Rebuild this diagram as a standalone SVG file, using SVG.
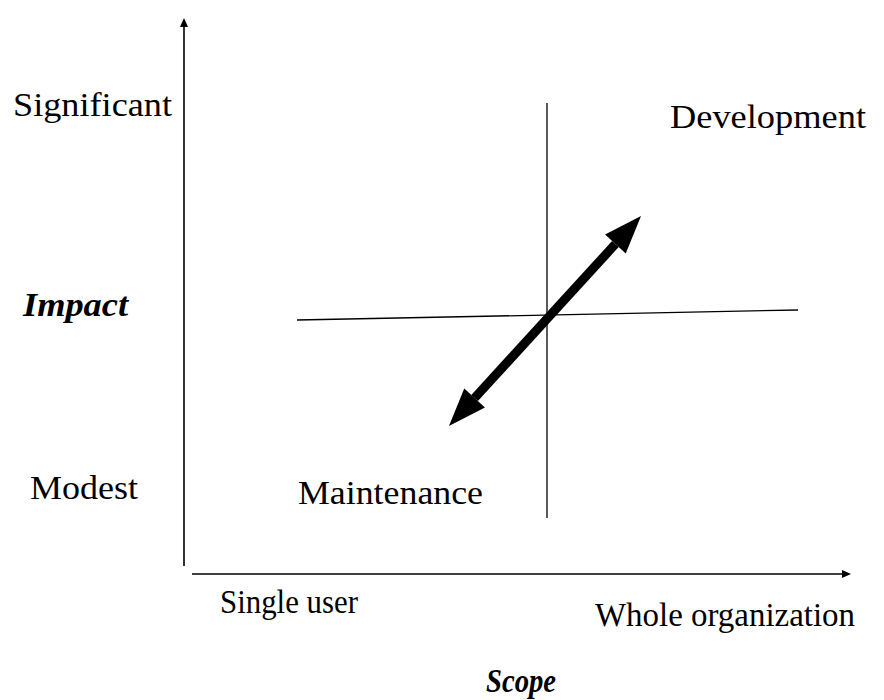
<svg xmlns="http://www.w3.org/2000/svg" width="884" height="700" viewBox="0 0 884 700">
  <style>
    .lbl { font-family: "Liberation Serif", "Times New Roman", serif; font-size: 34px; fill: #000; }
    .ax { font-weight: bold; font-style: italic; }
    .axis { stroke: #000; stroke-width: 1.6; fill: none; }
    .thin { stroke: #000; stroke-width: 1.3; fill: none; }
  </style>
  <defs>
    <marker id="axisHead" markerUnits="userSpaceOnUse" markerWidth="10" markerHeight="10" refX="0" refY="4" orient="auto" overflow="visible">
      <path d="M0,0 L9,4 L0,8 z" fill="#000"/>
    </marker>
    <marker id="bigHead" markerUnits="userSpaceOnUse" markerWidth="40" markerHeight="30" refX="0" refY="14" orient="auto-start-reverse" overflow="visible">
      <path d="M0,0 L38,14 L0,28 z" fill="#000"/>
    </marker>
  </defs>

  <g id="connectors">
    <!-- axes -->
    <line class="axis" x1="184" y1="566" x2="184" y2="27" marker-end="url(#axisHead)"/>
    <line class="axis" x1="192" y1="574" x2="842" y2="574" marker-end="url(#axisHead)"/>
    <!-- quadrant dividers -->
    <line class="thin" x1="547" y1="103" x2="547" y2="518"/>
    <line class="thin" x1="297" y1="320" x2="798" y2="310"/>
    <!-- double-headed trend arrow -->
    <line x1="474.6" y1="398" x2="615.4" y2="244" stroke="#000" stroke-width="9" marker-start="url(#bigHead)" marker-end="url(#bigHead)"/>
  </g>

  <g id="significant"><text class="lbl" x="13" y="116" textLength="159" lengthAdjust="spacingAndGlyphs">Significant</text></g>
  <g id="impact"><text class="lbl ax" x="23" y="316" textLength="105" lengthAdjust="spacingAndGlyphs">Impact</text></g>
  <g id="modest"><text class="lbl" x="30" y="499" textLength="108" lengthAdjust="spacingAndGlyphs">Modest</text></g>
  <g id="development"><text class="lbl" x="670" y="128" textLength="196" lengthAdjust="spacingAndGlyphs">Development</text></g>
  <g id="maintenance"><text class="lbl" x="298" y="504" textLength="185" lengthAdjust="spacingAndGlyphs">Maintenance</text></g>
  <g id="single-user"><text class="lbl" x="220" y="613" textLength="138" lengthAdjust="spacingAndGlyphs">Single user</text></g>
  <g id="whole-org"><text class="lbl" x="595" y="626" textLength="260" lengthAdjust="spacingAndGlyphs">Whole organization</text></g>
  <g id="scope"><text class="lbl ax" x="486" y="692" textLength="70" lengthAdjust="spacingAndGlyphs">Scope</text></g>
</svg>
